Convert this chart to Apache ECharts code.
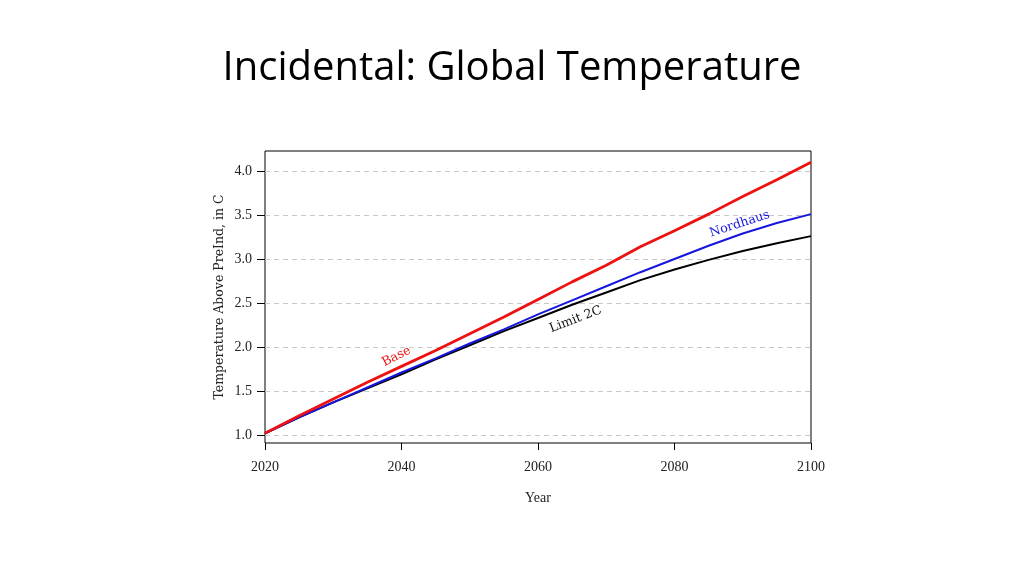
<!DOCTYPE html>
<html>
<head>
<meta charset="utf-8">
<script src="https://cdn.jsdelivr.net/npm/echarts@6/dist/echarts.min.js"></script>
<style>html,body{margin:0;padding:0;background:#fff;}#c{width:1024px;height:576px;}</style>
</head>
<body>
<div id="c"></div>
<script>
const years = [2020,2025,2030,2035,2040,2045,2050,2055,2060,2065,2070,2075,2080,2085,2090,2095,2100];
const base     = [1.02,1.22,1.41,1.60,1.78,1.96,2.15,2.34,2.54,2.74,2.93,3.14,3.32,3.51,3.71,3.90,4.10];
const nordhaus = [1.02,1.20,1.37,1.54,1.71,1.87,2.04,2.20,2.37,2.53,2.69,2.85,3.00,3.15,3.29,3.41,3.51];
const limit2c  = [1.02,1.20,1.37,1.53,1.69,1.86,2.02,2.18,2.33,2.48,2.62,2.76,2.88,2.99,3.09,3.18,3.26];
const yTicks = [1.0,1.5,2.0,2.5,3.0,3.5,4.0];
const xTicks = [2020,2040,2060,2080,2100];
const seriesNames = ['Base','Nordhaus','Limit 2C'];

const SERIF = 'DejaVu Serif';
const TICKFONT = 'Liberation Serif';
function buildData(vals, labelYear, labelText, rotate, offset, color) {
  return years.map((y, i) => {
    const item = { value: [y, vals[i]] };
    if (y === labelYear) {
      item.label = {
        show: true, formatter: labelText, position: 'inside', rotate: rotate,
        offset: offset, color: color, fontFamily: SERIF, fontSize: 12.5
      };
    }
    return item;
  });
}
const chart = echarts.init(document.getElementById('c'), null, {renderer: 'canvas'});
chart.setOption({
  animation: false,
  backgroundColor: '#fff',
  title: {
    text: 'Incidental: Global Temperature', left: 'center', top: 44,
    textStyle: { fontFamily: 'Open Sans', fontWeight: 'normal', fontSize: 40, color: '#000' }
  },
  grid: [
    { left: 265, right: 213, top: 151, bottom: 133, show: true, borderColor: '#000', borderWidth: 1, backgroundColor: 'transparent' },
    { left: 265, right: 213, top: 171, bottom: 141 }
  ],
  xAxis: [
    { gridIndex: 0, type: 'value', show: false, min: 0, max: 1 },
    { gridIndex: 1, type: 'value', min: xTicks[0], max: xTicks[xTicks.length-1], interval: 20, offset: 8,
      axisLine: { show: false }, axisTick: { show: true, length: 7, lineStyle: { color: '#000' } },
      axisLabel: { margin: 17, fontFamily: TICKFONT, fontSize: 14, color: '#222', formatter: v => String(v) },
      splitLine: { show: false },
      name: 'Year', nameLocation: 'middle', nameGap: 48,
      nameTextStyle: { fontFamily: TICKFONT, fontSize: 14, color: '#222' } }
  ],
  yAxis: [
    { gridIndex: 0, type: 'value', min: 0, max: 1, axisLine: { show: false }, axisTick: { show: false },
      axisLabel: { show: false }, splitLine: { show: false },
      name: 'Temperature Above PreInd, in C', nameLocation: 'middle', nameGap: 39,
      nameTextStyle: { fontFamily: SERIF, fontSize: 12.5, color: '#222' } },
    { gridIndex: 1, type: 'value', min: yTicks[0], max: yTicks[yTicks.length-1], interval: 0.5,
      axisLine: { show: false }, axisTick: { show: true, length: 8, lineStyle: { color: '#000' } },
      axisLabel: { margin: 13, fontFamily: TICKFONT, fontSize: 14, color: '#222', formatter: v => v.toFixed(1) },
      splitLine: { show: true, lineStyle: { color: '#c8c8c8', type: [5, 4], width: 1 } } }
  ],
  series: [
    { name: seriesNames[0], type: 'line', xAxisIndex: 1, yAxisIndex: 1, z: 4, clip: false,
      data: buildData(base, 2040, 'Base', 27, [0, -11], '#ee1111'),
      showSymbol: true, showAllSymbol: true, symbolSize: 0, symbol: 'circle',
      lineStyle: { color: '#ee1111', width: 2.8 }, itemStyle: { color: '#ee1111' } },
    { name: seriesNames[1], type: 'line', xAxisIndex: 1, yAxisIndex: 1, z: 3, clip: false,
      data: buildData(nordhaus, 2090, 'Nordhaus', 18, [0, -10], '#1515dd'),
      showSymbol: true, showAllSymbol: true, symbolSize: 0, symbol: 'circle',
      lineStyle: { color: '#1515e0', width: 2 }, itemStyle: { color: '#1515e0' } },
    { name: seriesNames[2], type: 'line', xAxisIndex: 1, yAxisIndex: 1, z: 2, clip: false,
      data: buildData(limit2c, 2065, 'Limit 2C', 21, [-2, 15], '#111'),
      showSymbol: true, showAllSymbol: true, symbolSize: 0, symbol: 'circle',
      lineStyle: { color: '#000', width: 2 }, itemStyle: { color: '#000' } }
  ]
});
</script>
</body>
</html>
